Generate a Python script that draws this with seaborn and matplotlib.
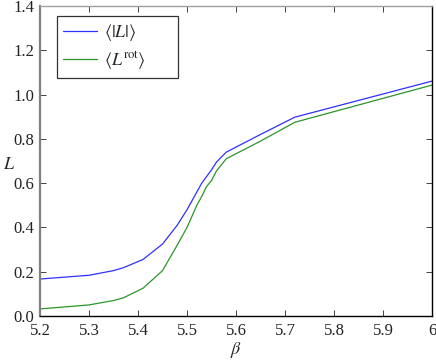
import numpy as np
import pandas as pd
import matplotlib
matplotlib.use("Agg")
import matplotlib.pyplot as plt
import seaborn as sns

beta = [5.2, 5.3, 5.35, 5.37, 5.41, 5.45, 5.48, 5.5, 5.52, 5.53, 5.54, 5.55, 5.56, 5.58, 5.65, 5.72, 6.0]
L_abs = [0.167, 0.184, 0.205, 0.218, 0.255, 0.325, 0.41, 0.48, 0.56, 0.60, 0.63, 0.66, 0.695, 0.74, 0.82, 0.898, 1.061]
L_rot = [0.032, 0.05, 0.07, 0.082, 0.125, 0.205, 0.32, 0.40, 0.50, 0.54, 0.585, 0.612, 0.655, 0.71, 0.79, 0.875, 1.043]
labels = [r"$\langle|L|\rangle$", r"$\langle L^{\rm rot}\rangle$"]
xticks = [5.2, 5.3, 5.4, 5.5, 5.6, 5.7, 5.8, 5.9, 6.0]
xticklabels = ["5.2", "5.3", "5.4", "5.5", "5.6", "5.7", "5.8", "5.9", "6"]
yticks = [0.0, 0.2, 0.4, 0.6, 0.8, 1.0, 1.2, 1.4]

sns.set_theme(style="ticks")
plt.rcParams["font.family"] = ["Liberation Serif", "DejaVu Serif"]
plt.rcParams["mathtext.fontset"] = "stix"
plt.rcParams["xtick.direction"] = "in"
plt.rcParams["ytick.direction"] = "in"

df = pd.DataFrame({
    "beta": beta + beta,
    "L": L_abs + L_rot,
    "series": [labels[0]] * len(beta) + [labels[1]] * len(beta),
})

fig = plt.figure(figsize=(4.36, 3.6), dpi=100)
ax = fig.add_axes([0.0917, 0.1222, 0.8993, 0.8611])
sns.lineplot(data=df, x="beta", y="L", hue="series", hue_order=labels,
             palette=["#3030ff", "#2a962a"], linewidth=0.9, ax=ax, legend=True)

ax.set_xlim(5.2, 6.0)
ax.set_ylim(0, 1.4)
ax.set_xticks(xticks)
ax.set_xticklabels(xticklabels)
ax.set_yticks(yticks)
ax.set_yticklabels([f"{v:.1f}" for v in yticks])
ax.tick_params(axis="both", which="both", direction="in", top=True, right=True,
               length=4, width=0.6, labelsize=12, colors="#222222")
ax.tick_params(axis="x", pad=5)
ax.tick_params(axis="y", pad=4)
for side in ["bottom", "right"]:
    ax.spines[side].set_color("black")
    ax.spines[side].set_linewidth(1.0)
ax.spines["left"].set_color("#808080")
ax.spines["left"].set_linewidth(1.6)
ax.spines["top"].set_color("#a0a0a0")
ax.spines["top"].set_linewidth(1.0)
for s in ax.spines.values():
    s.set_visible(True)

ax.set_xlabel(r"$\beta$", fontsize=13)
ax.xaxis.set_label_coords(0.5, -0.11)
ax.xaxis.label.set_va("center")
ax.set_ylabel(r"$L$", fontsize=13, rotation=0)
ax.yaxis.set_label_coords(-0.08, 0.49)
ax.yaxis.label.set_va("center")

leg = ax.legend(loc="upper left", bbox_to_anchor=(0.043, 0.0, 0.309, 0.968),
                mode="expand", frameon=True,
                fancybox=False, edgecolor="black", fontsize=13, handlelength=1.9,
                borderpad=0.35, labelspacing=0.35, handletextpad=0.35,
                borderaxespad=0.0)
leg.get_frame().set_linewidth(0.9)
leg.set_title(None)

fig.savefig("out.png", dpi=100)
